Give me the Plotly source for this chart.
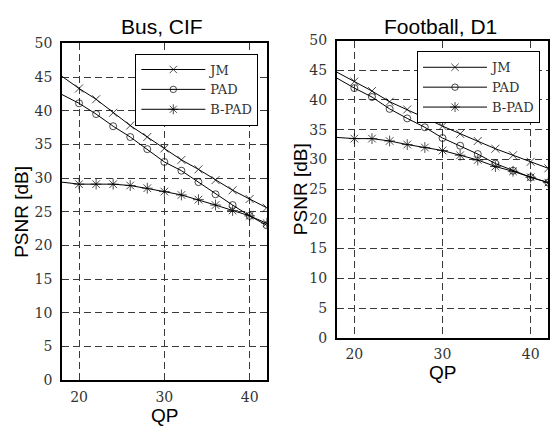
import plotly.graph_objects as go

# ---- data ----
qp = [18, 20, 22, 24, 26, 28, 30, 32, 34, 36, 38, 40, 42]

bus_jm = [45.1, 43.3, 41.7, 39.7, 37.8, 36.1, 34.4, 32.7, 31.3, 29.7, 28.2, 26.9, 25.6]
bus_pad = [42.4, 41.1, 39.5, 37.7, 36.1, 34.3, 32.4, 31.1, 29.4, 27.6, 26.0, 24.4, 23.0]
bus_bpad = [29.4, 29.1, 29.1, 29.1, 28.9, 28.5, 28.0, 27.5, 26.8, 26.0, 25.2, 24.4, 23.3]

fb_jm = [44.7, 43.1, 41.5, 39.7, 38.4, 37.0, 35.6, 34.3, 33.1, 31.8, 30.7, 29.6, 28.5]
fb_pad = [43.7, 42.0, 40.5, 38.5, 36.9, 35.4, 33.6, 32.3, 30.9, 29.3, 28.1, 27.0, 26.1]
fb_bpad = [33.7, 33.5, 33.5, 33.1, 32.5, 32.0, 31.5, 30.7, 29.9, 28.8, 28.0, 27.0, 26.1]

series_names = ["JM", "PAD", "B-PAD"]
x_ticks = [20, 30, 40]
y_ticks = [0, 5, 10, 15, 20, 25, 30, 35, 40, 45, 50]
titles = ["Bus, CIF", "Football, D1"]

W, H = 559, 429
SERIF = "DejaVu Serif, Liberation Serif, serif"
SANS = "Liberation Sans, Arial, sans-serif"

symbols = {"JM": ("x-thin-open", 8), "PAD": ("circle-open", 7), "B-PAD": ("asterisk-open", 9)}

fig = go.Figure()

def add_series(ys, name, xa, ya, leg):
    sym, sz = symbols[name]
    sizes = [0] + [sz] * (len(qp) - 1)  # first point sits on the axis edge (line only)
    fig.add_trace(go.Scatter(
        x=qp, y=ys, name=name, mode="lines+markers",
        xaxis=xa, yaxis=ya, legend=leg,
        line=dict(color="black", width=1),
        marker=dict(symbol=sym, size=sizes, color="black",
                    line=dict(color="black", width=1)),
    ))

for ys, nm in zip([bus_jm, bus_pad, bus_bpad], series_names):
    add_series(ys, nm, "x", "y", "legend")
for ys, nm in zip([fb_jm, fb_pad, fb_bpad], series_names):
    add_series(ys, nm, "x2", "y2", "legend2")

def px_x(p):
    return p / W

def px_y(p):
    return 1 - p / H

# axis boxes (pixel positions)
L = dict(x0=62, x1=266.7, y0=36.7, y1=386.7)
R = dict(x0=336.7, x1=548.3, y0=33.8, y1=342.5)

grid_common = dict(
    showgrid=True, gridcolor="#3a3a3a", gridwidth=1, griddash="7px,4px",
    showline=True, linecolor="black", linewidth=1.6, mirror=True,
    zeroline=False, ticks="", tickfont=dict(family=SERIF, size=14, color="#333"),
)

legend_common = dict(xanchor="right", yanchor="top", bgcolor="white",
                     bordercolor="black", borderwidth=1,
                     font=dict(family=SERIF, size=13, color="#333"), itemwidth=64)

fig.update_layout(
    width=W, height=H,
    margin=dict(l=0, r=0, t=0, b=0),
    paper_bgcolor="white", plot_bgcolor="white",
    showlegend=True,
    xaxis=dict(domain=[px_x(L["x0"]), px_x(L["x1"])], range=[18, 42], tickvals=x_ticks,
               anchor="y", ticklabelstandoff=3, **grid_common),
    yaxis=dict(domain=[px_y(L["y1"]), px_y(L["y0"])], range=[0, 50], tickvals=y_ticks,
               anchor="x", ticklabelstandoff=5, **grid_common),
    xaxis2=dict(domain=[px_x(R["x0"]), px_x(R["x1"])], range=[18, 42], tickvals=x_ticks,
                anchor="y2", ticklabelstandoff=3, **grid_common),
    yaxis2=dict(domain=[px_y(R["y1"]), px_y(R["y0"])], range=[0, 50], tickvals=y_ticks,
                anchor="x2", ticklabelstandoff=5, **grid_common),
    legend=dict(x=px_x(258.3), y=px_y(47.3), **legend_common),
    legend2=dict(x=px_x(540), y=px_y(45), **legend_common),
)

ann = []
for t, box in zip(titles, [L, R]):
    cx = (box["x0"] + box["x1"]) / 2
    ann.append(dict(text=t, x=px_x(cx - 2), y=px_y(19.5), xref="paper", yref="paper",
                    xanchor="center", yanchor="middle", showarrow=False,
                    font=dict(family=SANS, size=21, color="black")))
ann.append(dict(text="QP", x=px_x((L["x0"] + L["x1"]) / 2), y=px_y(423), xref="paper", yref="paper",
                xanchor="center", yanchor="middle", showarrow=False,
                font=dict(family=SANS, size=19, color="black")))
ann.append(dict(text="QP", x=px_x((R["x0"] + R["x1"]) / 2), y=px_y(379), xref="paper", yref="paper",
                xanchor="center", yanchor="middle", showarrow=False,
                font=dict(family=SANS, size=19, color="black")))
ann.append(dict(text="PSNR [dB]", x=px_x(22), y=px_y((L["y0"] + L["y1"]) / 2), xref="paper", yref="paper",
                xanchor="center", yanchor="middle", showarrow=False, textangle=-90,
                font=dict(family=SANS, size=19, color="black")))
ann.append(dict(text="PSNR [dB]", x=px_x(300), y=px_y((R["y0"] + R["y1"]) / 2), xref="paper", yref="paper",
                xanchor="center", yanchor="middle", showarrow=False, textangle=-90,
                font=dict(family=SANS, size=19, color="black")))
fig.update_layout(annotations=ann)

# remove the default 8px page margin so figure pixels map to window pixels
fig.write_html("out.html", config={"displayModeBar": False},
               post_script="document.body.style.margin='0';")
